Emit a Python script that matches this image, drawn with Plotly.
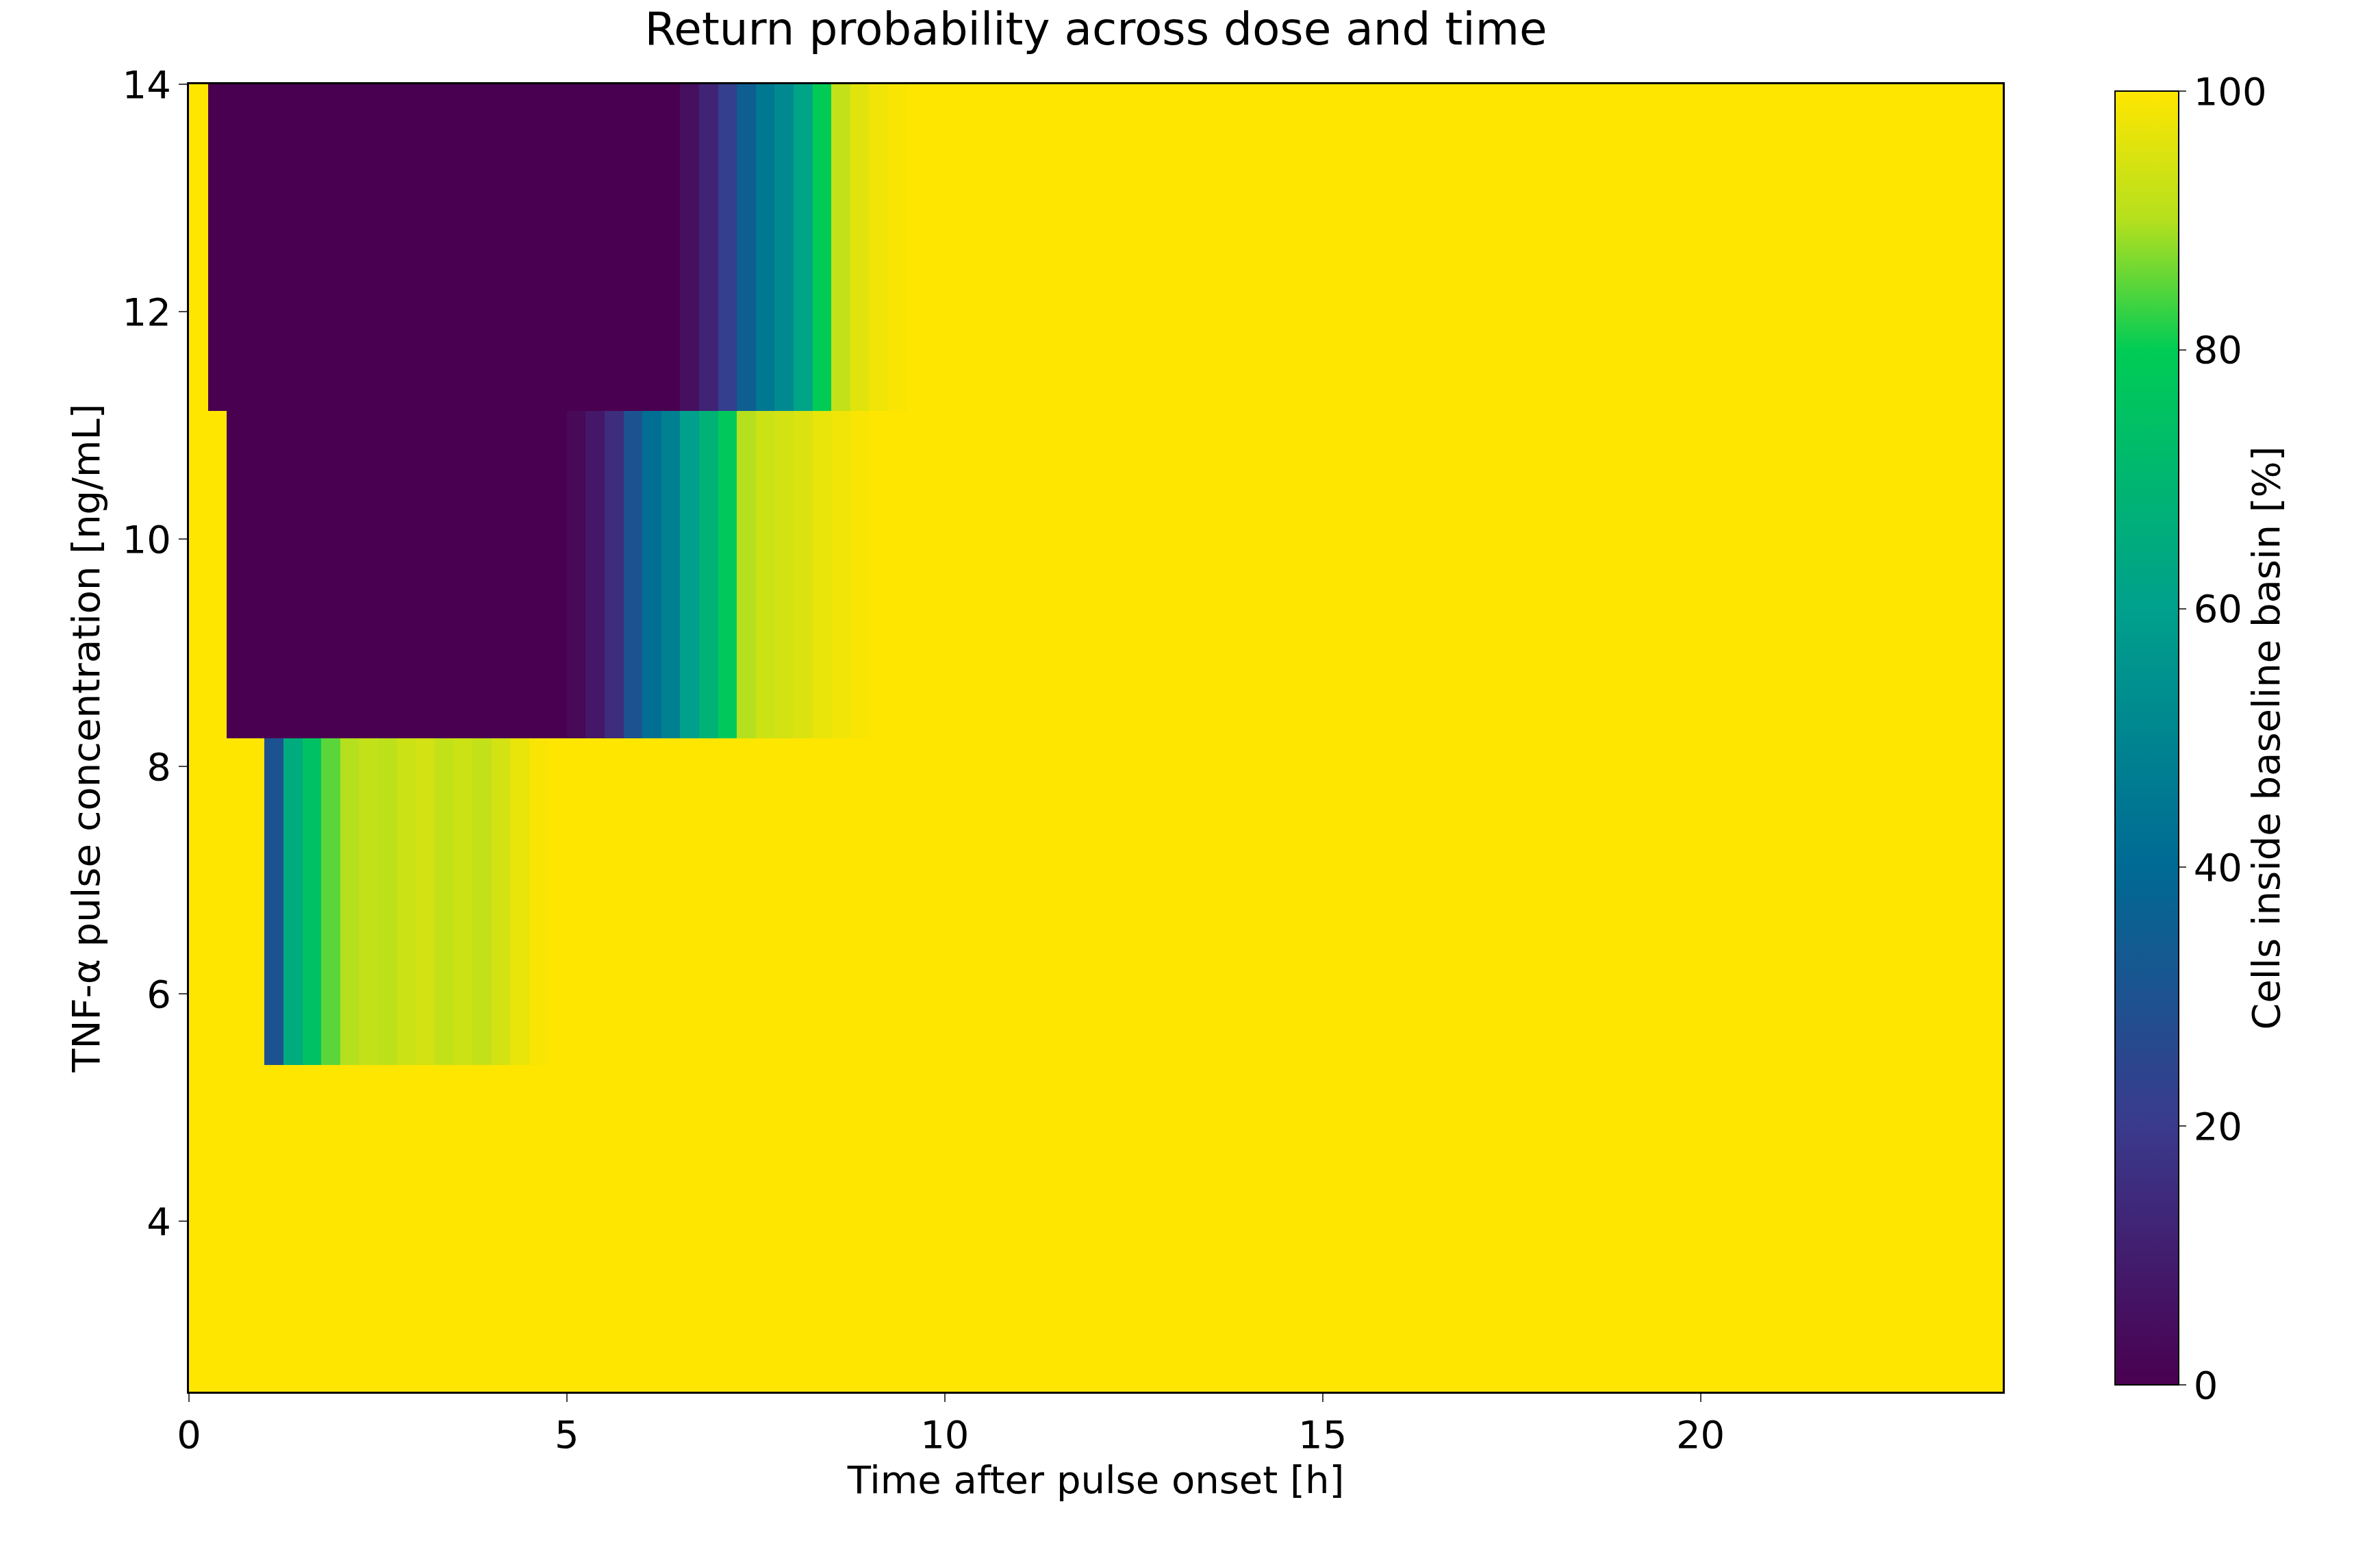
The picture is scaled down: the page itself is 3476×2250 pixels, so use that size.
import plotly.graph_objects as go

time_edges = [i * 0.25 for i in range(41)] + [24.0]
dose_edges = [2.5, 5.375, 8.25, 11.125, 14.0]

row1 = [100] * 40
row2 = [100, 100, 100, 100, 30, 65, 75, 85, 90, 92, 91, 93, 94, 92, 93, 92, 94, 97, 99] + [100] * 21
row3 = [100, 100] + [0] * 18 + [3, 8, 15, 30, 42, 48, 60, 68, 78, 90, 93, 94, 95, 97, 98, 99, 100, 100, 100, 100]
row4 = [100] + [0] * 25 + [5, 12, 22, 35, 45, 52, 62, 80, 92, 96, 98, 99, 100, 100]

z = [r + [100] for r in (row1, row2, row3, row4)]

cscale = [[0.0, "#4a0050"], [0.2, "#3a3a8c"], [0.4, "#006a94"], [0.6, "#00a08c"],
          [0.8, "#00cc55"], [0.9, "#b4e01e"], [1.0, "#ffe600"]]

font = dict(family="DejaVu Sans", size=56, color="black")
fig = go.Figure(go.Heatmap(
    x=time_edges, y=dose_edges, z=z, colorscale=cscale, zmin=0, zmax=100,
    colorbar=dict(x=1.058, xanchor="left", y=0, yanchor="bottom", len=1, lenmode="fraction",
                  thickness=93, outlinewidth=2, outlinecolor="black", ticks="outside",
                  ticklen=10, tickwidth=2, tickvals=[0, 20, 40, 60, 80, 100],
                  tickfont=font,
                  title=dict(text="Cells inside baseline basin [%]", side="right", font=font)),
))
axis = dict(showline=True, linecolor="black", linewidth=3, mirror=True, ticks="outside",
            ticklen=12, tickwidth=2, showgrid=False, zeroline=False, tickfont=font)
fig.update_layout(
    width=3476, height=2250, paper_bgcolor="white", plot_bgcolor="white",
    margin=dict(l=268, r=559, t=115, b=226),
    title=dict(text="Return probability across dose and time", x=0.5, xanchor="center",
               xref="paper", y=0.995, yanchor="top", font=dict(family="DejaVu Sans", size=66, color="black")),
    xaxis=dict(axis, range=[0, 24], tickvals=[0, 5, 10, 15, 20],
               title=dict(text="Time after pulse onset [h]", font=font, standoff=15)),
    yaxis=dict(axis, range=[2.5, 14], tickvals=[4, 6, 8, 10, 12, 14],
               title=dict(text="TNF-α pulse concentration [ng/mL]", font=font, standoff=15)),
)
fig.write_html("out.html")
